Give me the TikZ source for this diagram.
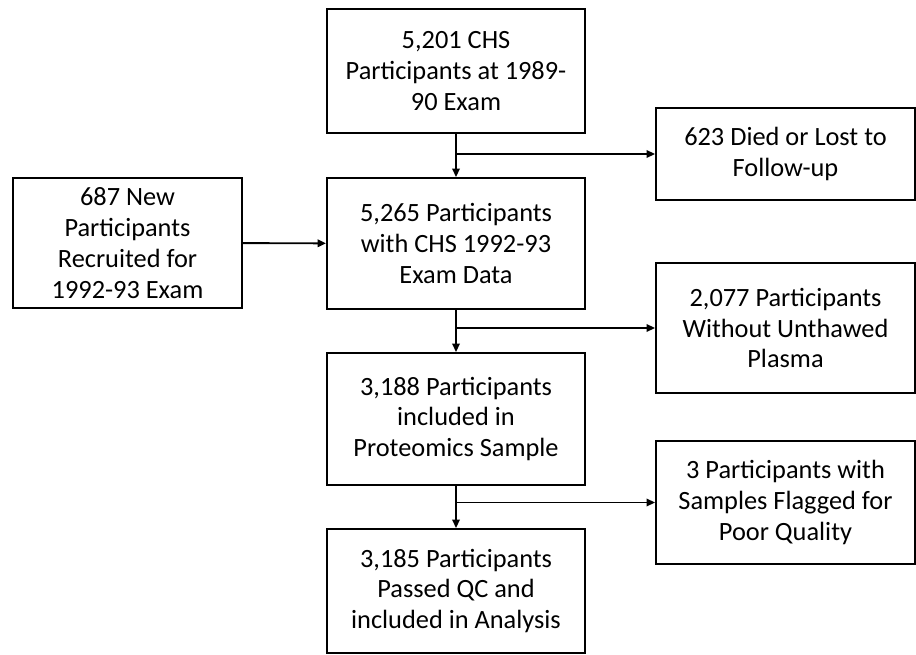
\documentclass[tikz,border=0pt]{standalone}
\usepackage{fontspec}
\setmainfont{Carlito}
\usetikzlibrary{arrows.meta}

\begin{document}
\begin{tikzpicture}[x=0.02cm,y=-0.02cm,
    box/.style={draw,line width=1.1pt,align=center,inner sep=0pt,
      font=\fontsize{15}{17.6}\selectfont},
    arr/.style={line width=1.1pt,-{Triangle[length=1.7mm,width=1.5mm]}}]
  \useasboundingbox (0,0) rectangle (916,655);

  % Main column
  \node[box,minimum width=258*0.02cm,minimum height=124*0.02cm] (exam89) at (456,71)
    {5,201 CHS\\Participants at 1989-\\90 Exam};
  \node[box,minimum width=258*0.02cm,minimum height=131*0.02cm] (exam92) at (456,243.5)
    {5,265 Participants\\with CHS 1992-93\\Exam Data};
  \node[box,minimum width=258*0.02cm,minimum height=132*0.02cm] (proteo) at (456,419)
    {3,188 Participants\\included in\\Proteomics Sample};
  \node[box,minimum width=258*0.02cm,minimum height=124*0.02cm] (analysis) at (456,591)
    {3,185 Participants\\Passed QC and\\included in Analysis};

  % Side boxes
  \node[box,minimum width=229*0.02cm,minimum height=130*0.02cm] (newrec) at (127.5,243)
    {687 New\\Participants\\Recruited for\\1992-93 Exam};
  \node[box,minimum width=259*0.02cm,minimum height=92*0.02cm] (lost) at (785.5,154)
    {623 Died or Lost to\\Follow-up};
  \node[box,minimum width=259*0.02cm,minimum height=130*0.02cm] (noplasma) at (785.5,328)
    {2,077 Participants\\Without Unthawed\\Plasma};
  \node[box,minimum width=259*0.02cm,minimum height=123*0.02cm] (flagged) at (785.5,502.5)
    {3 Participants with\\Samples Flagged for\\Poor Quality};

  % Branch points
  \coordinate (b1) at (exam89.south |- lost.west);
  \coordinate (b2) at (exam92.south |- noplasma.west);
  \coordinate (b3) at (proteo.south |- flagged.west);

  % Arrows
  \draw[arr] (exam89) -- (exam92);
  \draw[arr] (exam92) -- (proteo);
  \draw[arr] (proteo) -- (analysis);
  \draw[arr] (b1) -- (lost);
  \draw[arr] (b2) -- (noplasma);
  \draw[arr] (b3) -- (flagged);
  \draw[arr] (newrec) -- (exam92);
\end{tikzpicture}
\end{document}
